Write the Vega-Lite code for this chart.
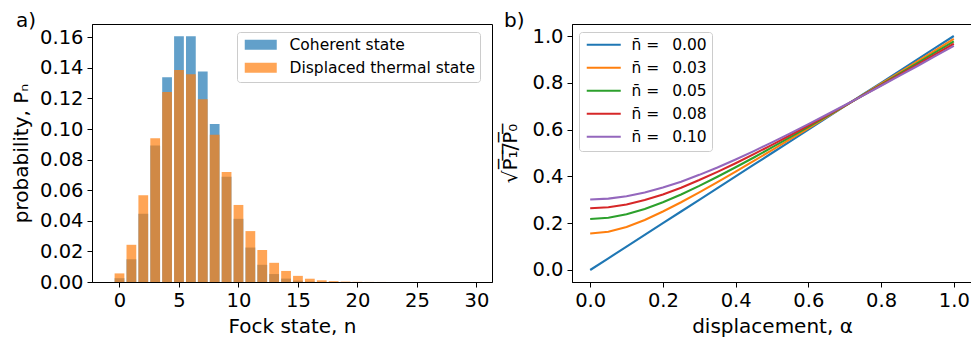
{
  "$schema": "https://vega.github.io/schema/vega-lite/v6.json",
  "background": "white",
  "padding": {"left": 10, "top": 10, "right": 0, "bottom": 0},
  "config": {
    "font": "DejaVu Sans",
    "view": {"stroke": "black", "strokeWidth": 1},
    "axis": {
      "grid": false, "domainColor": "black", "domainWidth": 1,
      "tickColor": "black", "tickSize": 5, "tickWidth": 1,
      "labelFont": "DejaVu Sans", "labelFontSize": 19.5, "labelColor": "black", "labelPadding": 4,
      "labelFlush": false, "labelOverlap": false,
      "titleFont": "DejaVu Sans", "titleFontSize": 20, "titleFontWeight": "normal", "titleColor": "black"
    },
    "legend": {
      "labelFont": "DejaVu Sans", "labelFontSize": 15.5, "labelColor": "black", "labelLimit": 400,
      "fillColor": "rgba(255,255,255,0.8)", "strokeColor": "#cccccc", "cornerRadius": 3,
      "padding": 5
    },
    "title": {"font": "DejaVu Sans", "fontSize": 20, "fontWeight": "normal", "color": "black"}
  },
  "datasets": {
    "fock": [
      {"n": 0, "state": "Coherent state", "probability": 0.00248},
      {"n": 1, "state": "Coherent state", "probability": 0.01487},
      {"n": 2, "state": "Coherent state", "probability": 0.04462},
      {"n": 3, "state": "Coherent state", "probability": 0.08924},
      {"n": 4, "state": "Coherent state", "probability": 0.13385},
      {"n": 5, "state": "Coherent state", "probability": 0.16062},
      {"n": 6, "state": "Coherent state", "probability": 0.16062},
      {"n": 7, "state": "Coherent state", "probability": 0.13768},
      {"n": 8, "state": "Coherent state", "probability": 0.10326},
      {"n": 9, "state": "Coherent state", "probability": 0.06884},
      {"n": 10, "state": "Coherent state", "probability": 0.0413},
      {"n": 11, "state": "Coherent state", "probability": 0.02253},
      {"n": 12, "state": "Coherent state", "probability": 0.01126},
      {"n": 13, "state": "Coherent state", "probability": 0.0052},
      {"n": 14, "state": "Coherent state", "probability": 0.00223},
      {"n": 15, "state": "Coherent state", "probability": 0.00089},
      {"n": 16, "state": "Coherent state", "probability": 0.00033},
      {"n": 17, "state": "Coherent state", "probability": 0.00012},
      {"n": 18, "state": "Coherent state", "probability": 0.00004},
      {"n": 19, "state": "Coherent state", "probability": 0.00001},
      {"n": 20, "state": "Coherent state", "probability": 0},
      {"n": 21, "state": "Coherent state", "probability": 0},
      {"n": 22, "state": "Coherent state", "probability": 0},
      {"n": 23, "state": "Coherent state", "probability": 0},
      {"n": 24, "state": "Coherent state", "probability": 0},
      {"n": 25, "state": "Coherent state", "probability": 0},
      {"n": 26, "state": "Coherent state", "probability": 0},
      {"n": 27, "state": "Coherent state", "probability": 0},
      {"n": 28, "state": "Coherent state", "probability": 0},
      {"n": 29, "state": "Coherent state", "probability": 0},
      {"n": 0, "state": "Displaced thermal state", "probability": 0.00562},
      {"n": 1, "state": "Displaced thermal state", "probability": 0.02433},
      {"n": 2, "state": "Displaced thermal state", "probability": 0.0567},
      {"n": 3, "state": "Displaced thermal state", "probability": 0.09404},
      {"n": 4, "state": "Displaced thermal state", "probability": 0.12421},
      {"n": 5, "state": "Displaced thermal state", "probability": 0.13868},
      {"n": 6, "state": "Displaced thermal state", "probability": 0.13581},
      {"n": 7, "state": "Displaced thermal state", "probability": 0.11957},
      {"n": 8, "state": "Displaced thermal state", "probability": 0.09634},
      {"n": 9, "state": "Displaced thermal state", "probability": 0.07198},
      {"n": 10, "state": "Displaced thermal state", "probability": 0.05038},
      {"n": 11, "state": "Displaced thermal state", "probability": 0.03329},
      {"n": 12, "state": "Displaced thermal state", "probability": 0.02091},
      {"n": 13, "state": "Displaced thermal state", "probability": 0.01255},
      {"n": 14, "state": "Displaced thermal state", "probability": 0.00723},
      {"n": 15, "state": "Displaced thermal state", "probability": 0.00401},
      {"n": 16, "state": "Displaced thermal state", "probability": 0.00215},
      {"n": 17, "state": "Displaced thermal state", "probability": 0.00112},
      {"n": 18, "state": "Displaced thermal state", "probability": 0.00057},
      {"n": 19, "state": "Displaced thermal state", "probability": 0.00028},
      {"n": 20, "state": "Displaced thermal state", "probability": 0.00013},
      {"n": 21, "state": "Displaced thermal state", "probability": 0.00006},
      {"n": 22, "state": "Displaced thermal state", "probability": 0.00003},
      {"n": 23, "state": "Displaced thermal state", "probability": 0.00001},
      {"n": 24, "state": "Displaced thermal state", "probability": 0},
      {"n": 25, "state": "Displaced thermal state", "probability": 0},
      {"n": 26, "state": "Displaced thermal state", "probability": 0},
      {"n": 27, "state": "Displaced thermal state", "probability": 0},
      {"n": 28, "state": "Displaced thermal state", "probability": 0},
      {"n": 29, "state": "Displaced thermal state", "probability": 0}
    ],
    "ratio": [
      {"alpha": 0.0, "series": "n̄ =\u00a0\u00a0\u20090.00", "ratio": 0.0},
      {"alpha": 0.05, "series": "n̄ =\u00a0\u00a0\u20090.00", "ratio": 0.05},
      {"alpha": 0.1, "series": "n̄ =\u00a0\u00a0\u20090.00", "ratio": 0.1},
      {"alpha": 0.15, "series": "n̄ =\u00a0\u00a0\u20090.00", "ratio": 0.15},
      {"alpha": 0.2, "series": "n̄ =\u00a0\u00a0\u20090.00", "ratio": 0.2},
      {"alpha": 0.25, "series": "n̄ =\u00a0\u00a0\u20090.00", "ratio": 0.25},
      {"alpha": 0.3, "series": "n̄ =\u00a0\u00a0\u20090.00", "ratio": 0.3},
      {"alpha": 0.35, "series": "n̄ =\u00a0\u00a0\u20090.00", "ratio": 0.35},
      {"alpha": 0.4, "series": "n̄ =\u00a0\u00a0\u20090.00", "ratio": 0.4},
      {"alpha": 0.45, "series": "n̄ =\u00a0\u00a0\u20090.00", "ratio": 0.45},
      {"alpha": 0.5, "series": "n̄ =\u00a0\u00a0\u20090.00", "ratio": 0.5},
      {"alpha": 0.55, "series": "n̄ =\u00a0\u00a0\u20090.00", "ratio": 0.55},
      {"alpha": 0.6, "series": "n̄ =\u00a0\u00a0\u20090.00", "ratio": 0.6},
      {"alpha": 0.65, "series": "n̄ =\u00a0\u00a0\u20090.00", "ratio": 0.65},
      {"alpha": 0.7, "series": "n̄ =\u00a0\u00a0\u20090.00", "ratio": 0.7},
      {"alpha": 0.75, "series": "n̄ =\u00a0\u00a0\u20090.00", "ratio": 0.75},
      {"alpha": 0.8, "series": "n̄ =\u00a0\u00a0\u20090.00", "ratio": 0.8},
      {"alpha": 0.85, "series": "n̄ =\u00a0\u00a0\u20090.00", "ratio": 0.85},
      {"alpha": 0.9, "series": "n̄ =\u00a0\u00a0\u20090.00", "ratio": 0.9},
      {"alpha": 0.95, "series": "n̄ =\u00a0\u00a0\u20090.00", "ratio": 0.95},
      {"alpha": 1.0, "series": "n̄ =\u00a0\u00a0\u20090.00", "ratio": 1.0},
      {"alpha": 0.0, "series": "n̄ =\u00a0\u00a0\u20090.03", "ratio": 0.1562},
      {"alpha": 0.05, "series": "n̄ =\u00a0\u00a0\u20090.03", "ratio": 0.1636},
      {"alpha": 0.1, "series": "n̄ =\u00a0\u00a0\u20090.03", "ratio": 0.1841},
      {"alpha": 0.15, "series": "n̄ =\u00a0\u00a0\u20090.03", "ratio": 0.214},
      {"alpha": 0.2, "series": "n̄ =\u00a0\u00a0\u20090.03", "ratio": 0.2499},
      {"alpha": 0.25, "series": "n̄ =\u00a0\u00a0\u20090.03", "ratio": 0.2896},
      {"alpha": 0.3, "series": "n̄ =\u00a0\u00a0\u20090.03", "ratio": 0.3317},
      {"alpha": 0.35, "series": "n̄ =\u00a0\u00a0\u20090.03", "ratio": 0.3755},
      {"alpha": 0.4, "series": "n̄ =\u00a0\u00a0\u20090.03", "ratio": 0.4203},
      {"alpha": 0.45, "series": "n̄ =\u00a0\u00a0\u20090.03", "ratio": 0.466},
      {"alpha": 0.5, "series": "n̄ =\u00a0\u00a0\u20090.03", "ratio": 0.5122},
      {"alpha": 0.55, "series": "n̄ =\u00a0\u00a0\u20090.03", "ratio": 0.5589},
      {"alpha": 0.6, "series": "n̄ =\u00a0\u00a0\u20090.03", "ratio": 0.6058},
      {"alpha": 0.65, "series": "n̄ =\u00a0\u00a0\u20090.03", "ratio": 0.6531},
      {"alpha": 0.7, "series": "n̄ =\u00a0\u00a0\u20090.03", "ratio": 0.7006},
      {"alpha": 0.75, "series": "n̄ =\u00a0\u00a0\u20090.03", "ratio": 0.7482},
      {"alpha": 0.8, "series": "n̄ =\u00a0\u00a0\u20090.03", "ratio": 0.796},
      {"alpha": 0.85, "series": "n̄ =\u00a0\u00a0\u20090.03", "ratio": 0.8438},
      {"alpha": 0.9, "series": "n̄ =\u00a0\u00a0\u20090.03", "ratio": 0.8918},
      {"alpha": 0.95, "series": "n̄ =\u00a0\u00a0\u20090.03", "ratio": 0.9399},
      {"alpha": 1.0, "series": "n̄ =\u00a0\u00a0\u20090.03", "ratio": 0.988},
      {"alpha": 0.0, "series": "n̄ =\u00a0\u00a0\u20090.05", "ratio": 0.2182},
      {"alpha": 0.05, "series": "n̄ =\u00a0\u00a0\u20090.05", "ratio": 0.2234},
      {"alpha": 0.1, "series": "n̄ =\u00a0\u00a0\u20090.05", "ratio": 0.2381},
      {"alpha": 0.15, "series": "n̄ =\u00a0\u00a0\u20090.05", "ratio": 0.2608},
      {"alpha": 0.2, "series": "n̄ =\u00a0\u00a0\u20090.05", "ratio": 0.2897},
      {"alpha": 0.25, "series": "n̄ =\u00a0\u00a0\u20090.05", "ratio": 0.323},
      {"alpha": 0.3, "series": "n̄ =\u00a0\u00a0\u20090.05", "ratio": 0.3595},
      {"alpha": 0.35, "series": "n̄ =\u00a0\u00a0\u20090.05", "ratio": 0.3984},
      {"alpha": 0.4, "series": "n̄ =\u00a0\u00a0\u20090.05", "ratio": 0.439},
      {"alpha": 0.45, "series": "n̄ =\u00a0\u00a0\u20090.05", "ratio": 0.4809},
      {"alpha": 0.5, "series": "n̄ =\u00a0\u00a0\u20090.05", "ratio": 0.5238},
      {"alpha": 0.55, "series": "n̄ =\u00a0\u00a0\u20090.05", "ratio": 0.5675},
      {"alpha": 0.6, "series": "n̄ =\u00a0\u00a0\u20090.05", "ratio": 0.6117},
      {"alpha": 0.65, "series": "n̄ =\u00a0\u00a0\u20090.05", "ratio": 0.6564},
      {"alpha": 0.7, "series": "n̄ =\u00a0\u00a0\u20090.05", "ratio": 0.7015},
      {"alpha": 0.75, "series": "n̄ =\u00a0\u00a0\u20090.05", "ratio": 0.7469},
      {"alpha": 0.8, "series": "n̄ =\u00a0\u00a0\u20090.05", "ratio": 0.7925},
      {"alpha": 0.85, "series": "n̄ =\u00a0\u00a0\u20090.05", "ratio": 0.8384},
      {"alpha": 0.9, "series": "n̄ =\u00a0\u00a0\u20090.05", "ratio": 0.8845},
      {"alpha": 0.95, "series": "n̄ =\u00a0\u00a0\u20090.05", "ratio": 0.9307},
      {"alpha": 1.0, "series": "n̄ =\u00a0\u00a0\u20090.05", "ratio": 0.9771},
      {"alpha": 0.0, "series": "n̄ =\u00a0\u00a0\u20090.08", "ratio": 0.2641},
      {"alpha": 0.05, "series": "n̄ =\u00a0\u00a0\u20090.08", "ratio": 0.2682},
      {"alpha": 0.1, "series": "n̄ =\u00a0\u00a0\u20090.08", "ratio": 0.28},
      {"alpha": 0.15, "series": "n̄ =\u00a0\u00a0\u20090.08", "ratio": 0.2987},
      {"alpha": 0.2, "series": "n̄ =\u00a0\u00a0\u20090.08", "ratio": 0.3231},
      {"alpha": 0.25, "series": "n̄ =\u00a0\u00a0\u20090.08", "ratio": 0.3519},
      {"alpha": 0.3, "series": "n̄ =\u00a0\u00a0\u20090.08", "ratio": 0.3843},
      {"alpha": 0.35, "series": "n̄ =\u00a0\u00a0\u20090.08", "ratio": 0.4193},
      {"alpha": 0.4, "series": "n̄ =\u00a0\u00a0\u20090.08", "ratio": 0.4563},
      {"alpha": 0.45, "series": "n̄ =\u00a0\u00a0\u20090.08", "ratio": 0.495},
      {"alpha": 0.5, "series": "n̄ =\u00a0\u00a0\u20090.08", "ratio": 0.5349},
      {"alpha": 0.55, "series": "n̄ =\u00a0\u00a0\u20090.08", "ratio": 0.5758},
      {"alpha": 0.6, "series": "n̄ =\u00a0\u00a0\u20090.08", "ratio": 0.6175},
      {"alpha": 0.65, "series": "n̄ =\u00a0\u00a0\u20090.08", "ratio": 0.6598},
      {"alpha": 0.7, "series": "n̄ =\u00a0\u00a0\u20090.08", "ratio": 0.7027},
      {"alpha": 0.75, "series": "n̄ =\u00a0\u00a0\u20090.08", "ratio": 0.746},
      {"alpha": 0.8, "series": "n̄ =\u00a0\u00a0\u20090.08", "ratio": 0.7897},
      {"alpha": 0.85, "series": "n̄ =\u00a0\u00a0\u20090.08", "ratio": 0.8337},
      {"alpha": 0.9, "series": "n̄ =\u00a0\u00a0\u20090.08", "ratio": 0.8779},
      {"alpha": 0.95, "series": "n̄ =\u00a0\u00a0\u20090.08", "ratio": 0.9224},
      {"alpha": 1.0, "series": "n̄ =\u00a0\u00a0\u20090.08", "ratio": 0.967},
      {"alpha": 0.0, "series": "n̄ =\u00a0\u00a0\u20090.10", "ratio": 0.3015},
      {"alpha": 0.05, "series": "n̄ =\u00a0\u00a0\u20090.10", "ratio": 0.3049},
      {"alpha": 0.1, "series": "n̄ =\u00a0\u00a0\u20090.10", "ratio": 0.3149},
      {"alpha": 0.15, "series": "n̄ =\u00a0\u00a0\u20090.10", "ratio": 0.3309},
      {"alpha": 0.2, "series": "n̄ =\u00a0\u00a0\u20090.10", "ratio": 0.3521},
      {"alpha": 0.25, "series": "n̄ =\u00a0\u00a0\u20090.10", "ratio": 0.3776},
      {"alpha": 0.3, "series": "n̄ =\u00a0\u00a0\u20090.10", "ratio": 0.4066},
      {"alpha": 0.35, "series": "n̄ =\u00a0\u00a0\u20090.10", "ratio": 0.4384},
      {"alpha": 0.4, "series": "n̄ =\u00a0\u00a0\u20090.10", "ratio": 0.4724},
      {"alpha": 0.45, "series": "n̄ =\u00a0\u00a0\u20090.10", "ratio": 0.5082},
      {"alpha": 0.5, "series": "n̄ =\u00a0\u00a0\u20090.10", "ratio": 0.5455},
      {"alpha": 0.55, "series": "n̄ =\u00a0\u00a0\u20090.10", "ratio": 0.5839},
      {"alpha": 0.6, "series": "n̄ =\u00a0\u00a0\u20090.10", "ratio": 0.6232},
      {"alpha": 0.65, "series": "n̄ =\u00a0\u00a0\u20090.10", "ratio": 0.6634},
      {"alpha": 0.7, "series": "n̄ =\u00a0\u00a0\u20090.10", "ratio": 0.7042},
      {"alpha": 0.75, "series": "n̄ =\u00a0\u00a0\u20090.10", "ratio": 0.7455},
      {"alpha": 0.8, "series": "n̄ =\u00a0\u00a0\u20090.10", "ratio": 0.7873},
      {"alpha": 0.85, "series": "n̄ =\u00a0\u00a0\u20090.10", "ratio": 0.8295},
      {"alpha": 0.9, "series": "n̄ =\u00a0\u00a0\u20090.10", "ratio": 0.872},
      {"alpha": 0.95, "series": "n̄ =\u00a0\u00a0\u20090.10", "ratio": 0.9148},
      {"alpha": 1.0, "series": "n̄ =\u00a0\u00a0\u20090.10", "ratio": 0.9578}
    ]
  },
  "spacing": 80,
  "bounds": "flush",
  "resolve": {"scale": {"color": "independent"}, "legend": {"color": "independent"}},
  "hconcat": [
    {
      "width": 400,
      "height": 258,
      "title": {"text": "a)", "anchor": "start", "frame": "group", "baseline": "alphabetic", "offset": 0, "dx": -76, "dy": 23},
      "data": {"name": "fock"},
      "mark": {"type": "bar", "width": 9.76, "opacity": 0.7, "clip": true},
      "encoding": {
        "x": {
          "field": "n", "type": "quantitative",
          "scale": {"domain": [-1.89, 30.89], "nice": false, "zero": false},
          "axis": {"values": [0, 5, 10, 15, 20, 25, 30], "format": "d", "title": "Fock state, n", "titleBaseline": "alphabetic", "titleY": 50}
        },
        "y": {
          "field": "probability", "type": "quantitative", "stack": null,
          "scale": {"domain": [0, 0.1687], "nice": false},
          "axis": {"values": [0, 0.02, 0.04, 0.06, 0.08, 0.1, 0.12, 0.14, 0.16], "format": ".2f", "title": "probability, Pₙ", "titleBaseline": "middle", "titleX": -71, "titleY": 129}
        },
        "color": {
          "field": "state", "type": "nominal",
          "scale": {"domain": ["Coherent state", "Displaced thermal state"], "range": ["#1f77b4", "#ff7f0e"]},
          "legend": {
            "title": null, "orient": "none", "legendX": 145, "legendY": 8,
            "symbolType": "M-1,-1H5.4V1H-1Z", "symbolSize": 100,
            "symbolOpacity": 0.7, "symbolStrokeWidth": 0, "labelOffset": 32, "rowPadding": 6
          }
        }
      }
    },
    {
      "width": 400,
      "height": 258,
      "title": {"text": "b)", "anchor": "start", "frame": "group", "baseline": "alphabetic", "offset": 0, "dx": -68, "dy": 23},
      "data": {"name": "ratio"},
      "mark": {"type": "line", "strokeWidth": 2.1, "clip": true},
      "encoding": {
        "x": {
          "field": "alpha", "type": "quantitative",
          "scale": {"domain": [-0.05, 1.05], "nice": false, "zero": false},
          "axis": {"values": [0, 0.2, 0.4, 0.6, 0.8, 1.0], "format": ".1f", "title": "displacement, α", "titleBaseline": "alphabetic", "titleY": 50}
        },
        "y": {
          "field": "ratio", "type": "quantitative",
          "scale": {"domain": [-0.0513, 1.0513], "nice": false, "zero": false},
          "axis": {"values": [0, 0.2, 0.4, 0.6, 0.8, 1.0], "format": ".1f", "title": "√P̅₁̅/̅P̅₀̅", "titleBaseline": "middle", "titleX": -62, "titleY": 129}
        },
        "color": {
          "field": "series", "type": "nominal",
          "scale": {"domain": ["n̄ =\u00a0\u00a0\u20090.00", "n̄ =\u00a0\u00a0\u20090.03", "n̄ =\u00a0\u00a0\u20090.05", "n̄ =\u00a0\u00a0\u20090.08", "n̄ =\u00a0\u00a0\u20090.10"], "range": ["#1f77b4", "#ff7f0e", "#2ca02c", "#d62728", "#9467bd"]},
          "legend": {
            "title": null, "orient": "none", "legendX": 7, "legendY": 8,
            "symbolType": "M-1,0H5.8", "symbolSize": 100, "symbolStrokeWidth": 2.1,
            "labelOffset": 32, "rowPadding": 6
          }
        }
      }
    }
  ]
}
